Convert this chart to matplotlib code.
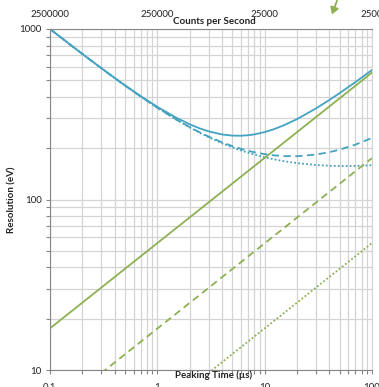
import matplotlib
matplotlib.use("Agg")
import matplotlib.pyplot as plt
from matplotlib.ticker import LogLocator, NullFormatter, FixedLocator, FixedFormatter

# peaking time (us) sample points for the resolution curves
peaking_time = [0.1, 0.15, 0.2, 0.3, 0.4, 0.5, 0.7, 1, 1.5, 2, 2.5, 3, 4, 5, 6, 7, 8,
                10, 12, 15, 20, 30, 40, 50, 70, 100]

# total resolution (eV), blue curves
res_solid = [999.7, 820.8, 714.7, 590.0, 516.6, 467.3, 403.8, 349.4, 301.7, 276.1, 260.8,
             251.1, 240.7, 237.0, 236.6, 238.2, 240.9, 248.5, 257.5, 271.9, 296.1, 341.8,
             383.2, 420.9, 488.0, 574.6]
res_dashed = [999.6, 820.5, 714.3, 589.3, 515.6, 465.8, 401.4, 345.4, 294.7, 265.9, 247.1,
              233.9, 216.5, 205.6, 198.3, 193.1, 189.4, 184.5, 181.7, 179.7, 179.4, 183.4,
              189.4, 196.1, 209.8, 229.7]
res_dotted = [999.6, 820.5, 714.3, 589.2, 515.5, 465.6, 401.2, 345.0, 294.0, 264.9, 245.7,
              232.1, 213.9, 202.2, 194.1, 188.1, 183.5, 176.9, 172.4, 167.9, 163.4, 159.3,
              157.7, 157.1, 157.3, 158.9]

# green straight lines (end points)
line_time = [0.1, 100]
green_solid = [17.55, 555]
green_dashed = [5.53, 175]
green_dotted = [1.755, 55.5]

bottom_ticks = [0.1, 1, 10, 100]
bottom_labels = ["0.1", "1", "10", "100"]
top_labels = ["2500000", "250000", "25000", "2500"]
left_ticks = [10, 100, 1000]
left_labels = ["10", "100", "1000"]

blue = "#43A3C0"
green = "#8DB152"

plt.rcParams['font.family'] = ['Lato', 'DejaVu Sans']

fig = plt.figure(figsize=(3.79, 3.87), dpi=100)
ax = fig.add_axes([50/379, 1 - 370/387, 322/379, 341/387])

ax.plot(peaking_time, res_solid, color=blue, lw=1.3)
ax.plot(peaking_time, res_dashed, color=blue, lw=1.3, linestyle=(0, (4, 2.5)))
ax.plot(peaking_time, res_dotted, color=blue, lw=1.3, linestyle=(0, (1, 1.2)))
ax.plot(line_time, green_solid, color=green, lw=1.3)
ax.plot(line_time, green_dashed, color=green, lw=1.3, linestyle=(0, (4, 2.5)))
ax.plot(line_time, green_dotted, color=green, lw=1.3, linestyle=(0, (1, 1.2)))

ax.set_xscale("log")
ax.set_yscale("log")
ax.set_xlim(0.1, 100)
ax.set_ylim(10, 1000)

ax.xaxis.set_major_locator(FixedLocator(bottom_ticks))
ax.xaxis.set_major_formatter(FixedFormatter(bottom_labels))
ax.xaxis.set_minor_locator(LogLocator(base=10, subs=range(2, 10)))
ax.xaxis.set_minor_formatter(NullFormatter())
ax.yaxis.set_major_locator(FixedLocator(left_ticks))
ax.yaxis.set_major_formatter(FixedFormatter(left_labels))
ax.yaxis.set_minor_locator(LogLocator(base=10, subs=range(2, 10)))
ax.yaxis.set_minor_formatter(NullFormatter())

ax.grid(True, which="both", color="#D4D4D4", lw=0.9)
ax.set_axisbelow(True)
ax.tick_params(which="both", direction="out", length=3, width=0.8, color="#868686",
               labelsize=7, labelcolor="#222222", pad=3)
ax.tick_params(axis="x", pad=6)
for side in ["left", "bottom", "top"]:
    ax.spines[side].set_color("#868686")
ax.spines["right"].set_color("#D4D4D4")

top = ax.twiny()
top.set_xscale("log")
top.set_xlim(0.1, 100)
top.xaxis.set_major_locator(FixedLocator(bottom_ticks))
top.xaxis.set_major_formatter(FixedFormatter(top_labels))
top.xaxis.set_minor_locator(FixedLocator([]))
top.tick_params(length=0, labelsize=7, labelcolor="#222222", pad=7)
for s in top.spines.values():
    s.set_visible(False)

fig.text(214/379, 1 - 22/387, "Counts per Second", ha="center", va="center",
         fontsize=7, fontweight="bold", color="#222222")
fig.text(214/379, 1 - 375/387, "Peaking Time (\u00b5s)", ha="center", va="center",
         fontsize=7, fontweight="bold", color="#222222")
fig.text(12/379, 1 - 200/387, "Resolution (eV)", ha="center", va="center",
         rotation=90, fontsize=7, fontweight="bold", color="#222222")

fig.patches.append(matplotlib.patches.FancyArrowPatch(
    (338/379, 1 + 2/387), (331/379, 1 - 17/387), transform=fig.transFigure,
    arrowstyle="-|>,head_length=4,head_width=2.5", color=green, lw=1.3))

fig.savefig("out.png", dpi=100, facecolor="white")
